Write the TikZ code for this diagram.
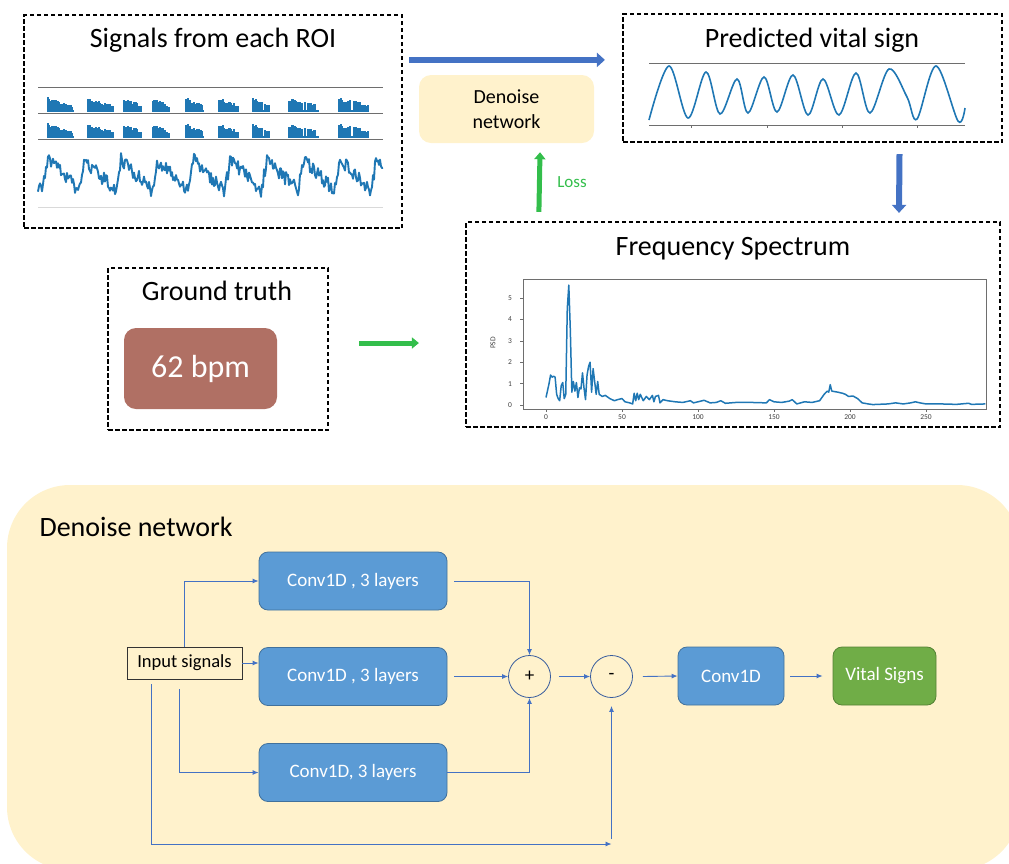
\documentclass[tikz,border=0pt]{standalone}
\usepackage{fontspec}
\setmainfont{Carlito}
\usetikzlibrary{arrows.meta}
\definecolor{flowblue}{RGB}{68,114,196}
\definecolor{convblue}{RGB}{91,155,213}
\definecolor{convedge}{RGB}{65,113,156}
\definecolor{vitalgreen}{RGB}{112,173,71}
\definecolor{vitaledge}{RGB}{84,130,53}
\definecolor{panelyellow}{RGB}{255,242,204}
\definecolor{bpmred}{RGB}{176,112,100}
\definecolor{plotblue}{RGB}{31,119,180}
\definecolor{lossgreen}{RGB}{51,190,75}
\definecolor{axisgray}{RGB}{110,110,110}

\begin{document}
\begin{tikzpicture}[x=1pt, y=-1pt, >=latex,
    dashbox/.style={draw, line width=2.2pt, dash pattern=on 4.5pt off 2.5pt},
    paneltitle/.style={anchor=base, font=\fontsize{28}{30}\selectfont},
    convbox/.style={rectangle, rounded corners=9pt, fill=convblue, draw=convedge,
        line width=0.8pt, text=white, font=\fontsize{19}{21}\selectfont, minimum height=58pt},
    inbox/.style={rectangle, draw=black!80, line width=0.8pt, inner sep=0pt,
        minimum width=115pt, minimum height=32pt, font=\fontsize{18.5}{20}\selectfont},
    sumnode/.style={circle, draw=flowblue!80!black, line width=0.8pt, minimum size=42pt,
        inner sep=0pt, font=\fontsize{19}{21}\selectfont},
    flow/.style={-{Latex[length=6pt,width=5pt]}, draw=flowblue, line width=0.9pt},
    bigblue/.style={-{Triangle[length=8pt,width=14pt]}, draw=flowblue, line width=6pt},
    biggreen/.style={-{Triangle[length=7pt,width=11pt]}, draw=lossgreen, line width=5pt},
    ticklbl/.style={font=\fontsize{7.5}{8}\selectfont, text=black!75, inner sep=1pt},
    declare function={ph(\t)=mod(\t+31,36.5);
        sig(\t)=(ph(\t)<6) ? 192-5.3*ph(\t) : 160+0.98*(ph(\t)-6);}]
    \useasboundingbox (0,0) rectangle (1009,863);

    % Network panel background
    \begin{scope}
        \clip (0,0) rectangle (1009,863);
        \fill[panelyellow, rounded corners=63pt] (7,485) rectangle (1020,870);
    \end{scope}

    % Signals from each ROI
    \node[dashbox, minimum width=378pt, minimum height=213pt] (roi) at (213,121.5) {};
    \node[paneltitle] (roititle) at (213,47) {Signals from each ROI};
    \foreach \ly in {87,113,139} \draw[axisgray, line width=1pt] (38,\ly) -- (383,\ly);
    \draw[black!15, line width=1pt] (38,207) -- (383,207);
    \foreach \base in {112,138} {
        \pgfmathsetseed{11}
        \foreach \a/\b in {47/72,87/112,123/140,152/168,185/202,218/237,252/268,288/317,338/367} {
            \foreach \x in {\a,...,\b} {
                \pgfmathsetmacro\h{(rnd<0.12) ? 2 : (10+5*rnd)*(1-0.5*(\x-\a)/(\b-\a))}
                \fill[plotblue] (\x,\base) rectangle ++(1.5,-\h);
            }
        }
    }
    \pgfmathsetseed{4}
    \draw[plotblue, line width=1.9pt, line join=round]
        plot[domain=38:383, samples=346] (\x, {sig(\x)+7*rand});

    % Predicted vital sign
    \node[dashbox, minimum width=379pt, minimum height=128pt] (pred) at (812.5,78) {};
    \node[paneltitle] (predtitle) at (812,47) {Predicted vital sign};
    \foreach \ly in {63,125} \draw[axisgray, line width=1pt] (649,\ly) -- (965,\ly);
    \foreach \tx in {691,767,842,917} \draw[axisgray] (\tx,125) -- (\tx,128);
    \draw[plotblue, line width=1.6pt] plot[smooth, tension=0.55] coordinates {
        (649,120) (669,66) (688,118) (706,72) (720,114) (737,79) (748,113) (764,77)
        (777,112) (793,75) (808,115) (823,79) (839,115) (856,73) (870,113) (889,69)
        (907,97) (917,119) (936,66) (958,121) (965,108)};

    % Frequency spectrum
    \node[dashbox, minimum width=534pt, minimum height=205pt] (freq) at (733,324.5) {};
    \node[paneltitle] (freqtitle) at (733,255) {Frequency Spectrum};
    \begin{scope}[shift={(546,405)}, x=1.52pt, y=21.4pt]
        \draw[axisgray, line width=0.8pt] (-15.1,-0.19) rectangle (289.5,5.89);
        \foreach \t in {0,50,...,250} {
            \draw[axisgray] (\t,-0.19) -- ++(0,-0.12);
            \node[ticklbl] (xt\t) at (\t,-0.55) {\t};
        }
        \foreach \v in {0,...,5} {
            \draw[axisgray] (-15.1,\v) -- ++(-2,0);
            \node[ticklbl] (yt\v) at (-23.7,\v) {\v};
        }
        \node[ticklbl, rotate=90] (psd) at (-34.9,2.9) {PSD};
        \draw[plotblue, line width=1.5pt, line join=round] plot coordinates {
            (0,0.35) (2,1.0) (3,1.4) (4,1.3) (5,1.35) (6,1.3) (7,0.5) (8,0.3) (9,0.2)
            (10,0.9) (11,1.05) (12,0.3) (13,0.5) (14,4.5) (15,5.6) (16,3.5) (17,0.6)
            (18,1.1) (19,0.65) (20,1.05) (21,0.35) (22,0.8) (23,0.75) (24,1.5) (25,0.8)
            (26,0.25) (27,1.4) (28,1.8) (29,2.0) (30,0.6) (31,1.7) (32,1.1) (33,0.5)
            (34,1.1) (35,0.5) (37,0.4) (39,0.45) (42,0.3) (45,0.2) (47,0.25) (50,0.3)
            (52,0.15) (55,0.1) (57,0.05) (58,0.55) (59,0.2) (60,0.55) (61,0.25) (62,0.5)
            (64,0.2) (66,0.4) (68,0.25) (70,0.45) (71,0.15) (72,0.4) (74,0.45) (75,0.1)
            (77,0.25) (80,0.2) (85,0.15) (90,0.12) (95,0.2) (97,0.1) (100,0.15)
            (104,0.22) (108,0.1) (112,0.12) (115,0.2) (118,0.08) (125,0.12) (135,0.12)
            (145,0.1) (147,0.25) (150,0.15) (155,0.12) (160,0.18) (162,0.25) (165,0.05)
            (170,0.15) (175,0.12) (180,0.2) (183,0.5) (185,0.65) (186,0.6) (187,0.95)
            (188,0.65) (192,0.6) (195,0.55) (197,0.5) (199,0.4) (202,0.42) (205,0.3)
            (208,0.1) (212,0.05) (215,0.02) (225,0.05) (230,0.1) (235,0.05) (240,0.1)
            (243,0.15) (246,0.1) (250,0.05) (260,0.05) (270,0.03) (278,0.08) (280,0.03)
            (289,0.05)};
    \end{scope}

    % Ground truth
    \node[dashbox, minimum width=220pt, minimum height=162pt] (truth) at (218,349) {};
    \node[paneltitle] (truthtitle) at (217,300) {Ground truth};
    \node[rectangle, rounded corners=12pt, fill=bpmred, text=white, minimum width=153pt,
        minimum height=81pt, font=\fontsize{32}{34}\selectfont] (bpm) at (200.5,368.5) {62 bpm};

    % Denoise network (small)
    \node[rectangle, rounded corners=12pt, fill=panelyellow, minimum width=175pt,
        minimum height=68pt, align=center, font=\fontsize{20}{25}\selectfont]
        (denoise) at (506.5,109) {Denoise\\network};

    % Top arrows
    \draw[bigblue] ([xshift=6pt,yshift=-46pt]roi.north east) -- ([xshift=-17pt,yshift=-47pt]pred.north west);
    \draw[bigblue] ([xshift=87pt,yshift=-11pt]pred.south) -- ([xshift=166pt,yshift=8pt]freq.north);
    \draw[biggreen] ([xshift=74pt,yshift=9pt]freq.north west) -- ([xshift=33.5pt,yshift=-9pt]denoise.south)
        node[midway, right=12pt, text=lossgreen, font=\fontsize{17}{19}\selectfont] (loss) {Loss};
    \draw[biggreen] ([xshift=30pt,yshift=6pt]truth.east) -- ([xshift=-46pt,yshift=-18.5pt]freq.west);

    % Denoise network panel
    \node[anchor=base west, font=\fontsize{28}{30}\selectfont] (nettitle) at (36,536) {Denoise network};
    \node[inbox] (input) at (184.5,663) {Input signals};
    \node[convbox, minimum width=188pt] (conv1) at (353,581) {Conv1D , 3 layers};
    \node[convbox, minimum width=188pt] (conv2) at (353,676.5) {Conv1D , 3 layers};
    \node[convbox, minimum width=188pt] (conv3) at (353,772.5) {Conv1D, 3 layers};
    \node[sumnode] (plus) at (529.5,676.5) {+};
    \node[sumnode] (minus) at (611.5,676.5) {-};
    \node[convbox, minimum width=106pt] (conv) at (731,676) {Conv1D};
    \node[convbox, minimum width=103pt, fill=vitalgreen, draw=vitaledge] (vital) at (884.5,676) {Vital Signs};
    \coordinate (skipend) at (611.5,844);

    % Connections
    \draw[flow] (input.north) |- (conv1.west);
    \draw[flow] (input.east) -- (input.east -| conv2.west);
    \draw[flow] ([xshift=-5.5pt,yshift=-10pt]input.south) |- (conv3.west);
    \draw[flow] ([xshift=-33.5pt,yshift=-5pt]input.south) |- (skipend);
    \draw[flow, shorten >=8pt] ([yshift=5pt]skipend) -- (minus.south);
    \draw[flow] ([xshift=7pt]conv1.east) -| (plus.north);
    \draw[flow] ([xshift=7pt]conv2.east) -- (plus.west);
    \draw[flow] (conv3.east) -| (plus.south);
    \draw[flow] ([xshift=8pt]plus.east) -- (minus.west);
    \draw[flow] ([xshift=10pt]minus.east) -- (conv.west);
    \draw[flow] ([xshift=6pt]conv.east) -- ([xshift=-10pt]vital.west);
\end{tikzpicture}
\end{document}
